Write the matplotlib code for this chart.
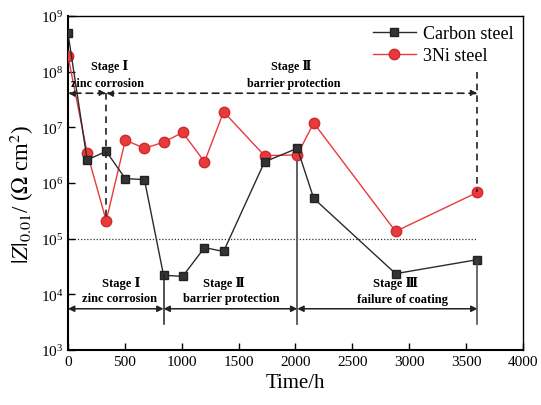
import matplotlib
matplotlib.use("Agg")
import matplotlib.pyplot as plt
import numpy as np

plt.rcParams['font.family'] = ['Liberation Serif', 'DejaVu Serif', 'Noto Sans CJK SC']
plt.rcParams['mathtext.fontset'] = 'stix'

# Data
time_cs = [0, 168, 336, 504, 672, 840, 1008, 1200, 1368, 1728, 2016, 2160, 2880, 3600]
z_cs = [4.9e8, 2.6e6, 3.7e6, 1.2e6, 1.15e6, 2.2e4, 2.1e4, 6.9e4, 5.9e4, 2.4e6, 4.2e6, 5.3e5, 2.35e4, 4.2e4]
time_ni = [0, 168, 336, 504, 672, 840, 1008, 1200, 1368, 1728, 2016, 2160, 2880, 3600]
z_ni = [1.9e8, 3.5e6, 2.1e5, 5.9e6, 4.2e6, 5.4e6, 8.1e6, 2.4e6, 1.9e7, 3.1e6, 3.2e6, 1.2e7, 1.35e5, 6.8e5]

xticks = [0, 500, 1000, 1500, 2000, 2500, 3000, 3500, 4000]
yticks = [1e3, 1e4, 1e5, 1e6, 1e7, 1e8, 1e9]

# stage boundaries
upper_bounds = [0, 336, 3600]
lower_bounds = [0, 840, 2016, 3600]
threshold = 1e5

fig = plt.figure(figsize=(5.41, 4.06), dpi=100)
ax = fig.add_axes([0.1257, 0.1355, 0.8410, 0.8226])

red = '#e8393d'
ax.plot(time_cs, z_cs, '-s', color='#2b2b2b', lw=1.0, ms=6, mfc='#333333', mec='#222222', label='Carbon steel', zorder=4)
ax.plot(time_ni, z_ni, '-o', color=red, lw=1.0, ms=7.5, mfc=red, mec='#d02a2e', label='3Ni steel', zorder=3)

ax.set_yscale('log')
ax.set_xlim(0, 4000)
ax.set_ylim(1e3, 1e9)
ax.set_xticks(xticks)
ax.set_xticklabels([str(t) for t in xticks])
ax.set_yticks(yticks)
ax.minorticks_off()
ax.tick_params(direction='in', length=5, width=1.0, labelsize=11, top=False, right=False)
for s in ax.spines.values():
    s.set_linewidth(1.0)
ax.spines['left'].set_linewidth(1.5)
ax.spines['bottom'].set_linewidth(1.5)

ax.set_xlabel('Time/h', fontsize=15)
ax.set_ylabel(r'$|Z|_{0.01}$/ ($\Omega$ cm$^2$)', fontsize=16.5)
ax.yaxis.set_label_coords(-0.07, 0.47)

# threshold dotted line
ax.plot([0, 3600], [threshold, threshold], ls=(0, (1, 1.5)), color='#333333', lw=0.9, zorder=1)

# upper dashed arrows
y_up = 4.1e7
akw = dict(arrowstyle='<|-|>', color='#222222', lw=1.2, ls=(0, (4, 3)), mutation_scale=9, shrinkA=0, shrinkB=0)
ax.annotate('', xy=(upper_bounds[0], y_up), xytext=(upper_bounds[1], y_up), arrowprops=akw, zorder=5)
ax.annotate('', xy=(upper_bounds[1], y_up), xytext=(upper_bounds[2], y_up), arrowprops=akw, zorder=5)
ax.plot([336, 336], [y_up, z_ni[2]], ls=(0, (4, 3)), color='#222222', lw=1.2, zorder=5)
ax.plot([3600, 3600], [1.0e8, z_ni[-1]], ls=(0, (4, 3)), color='#222222', lw=1.2, zorder=5)

tkw = dict(fontsize=8.7, fontweight='bold', ha='center', va='center')
ax.text(361, 1.27e8, 'Stage Ⅰ', **tkw)
ax.text(343, 6.3e7, 'zinc corrosion', **tkw)
ax.text(1965, 1.27e8, 'Stage Ⅱ', **tkw)
ax.text(1985, 6.3e7, 'barrier protection', **tkw)

# lower solid arrows
y_lo = 5.5e3
lkw = dict(arrowstyle='<|-|>', color='#222222', lw=1.1, mutation_scale=9, shrinkA=0, shrinkB=0)
for a, b in zip(lower_bounds[:-1], lower_bounds[1:]):
    ax.annotate('', xy=(a, y_lo), xytext=(b, y_lo), arrowprops=lkw, zorder=5)
ax.plot([840, 840], [z_cs[5], 2.9e3], color='#222222', lw=1.1, zorder=5)
ax.plot([2016, 2016], [z_cs[10], 2.9e3], color='#555555', lw=1.3, zorder=2)
ax.plot([3600, 3600], [z_cs[-1], 2.9e3], color='#444444', lw=1.1, zorder=5)

tkw2 = dict(fontsize=9.0, fontweight='bold', ha='center', va='center')
ax.text(467, 1.66e4, 'Stage Ⅰ', **tkw2)
ax.text(454, 8.7e3, 'zinc corrosion', **tkw2)
ax.text(1374, 1.66e4, 'Stage Ⅱ', **tkw2)
ax.text(1432, 8.7e3, 'barrier protection', **tkw2)
ax.text(2877, 1.6e4, 'Stage Ⅲ', **tkw2)
ax.text(2943, 8.4e3, 'failure of coating', **tkw2)

leg = ax.legend(loc='upper right', frameon=False, fontsize=13, handlelength=2.4,
                borderaxespad=0.1, labelspacing=0.3, handletextpad=0.4)

fig.savefig('out.png', dpi=100)
